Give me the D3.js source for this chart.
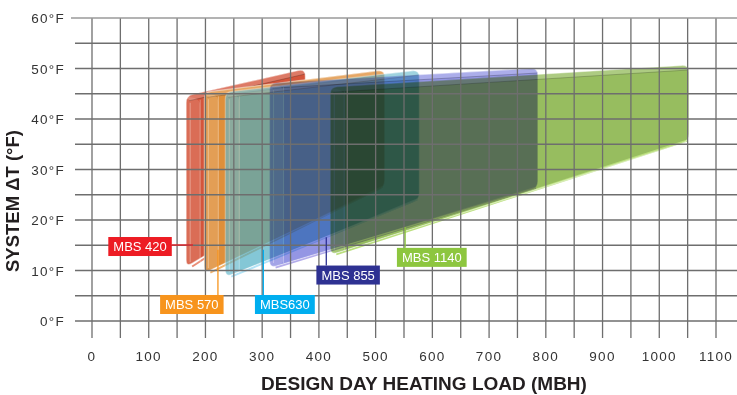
<!DOCTYPE html>
<html>
<head>
<meta charset="utf-8">
<script src="https://cdn.jsdelivr.net/npm/d3@7/dist/d3.min.js"></script>
<style>
  html, body { margin: 0; padding: 0; background: #fff; }
  svg { display: block; }
  text { font-family: "Liberation Sans", Arial, Helvetica, sans-serif; }
</style>
</head>
<body>
<svg id="chart" width="737" height="395"></svg>
<script>
// Boiler operating envelopes: system ΔT versus design-day heating load
const models        = ["MBS 420", "MBS 570", "MBS630", "MBS 855", "MBS 1140"];
const minLoad       = [166, 198, 235, 313, 420];     // MBH at the left edge
const maxLoad       = [376, 516, 577, 786, 1052];    // MBH at the right edge
const dtTopLeft     = [44.6, 45.3, 45.3, 47.1, 46.3]; // °F
const dtTopRight    = [49.9, 49.7, 49.7, 50.1, 50.7];
const dtBottomLeft  = [10.7, 9.5, 8.7, 10.5, 13.1];
const dtBottomRight = [25.0, 26.5, 24.0, 26.3, 35.6];

const xTicks = d3.range(0, 1101, 100);
const yTicks = d3.range(0, 61, 10);
const yTickLabels = yTicks.map(v => v + "°F");

// Callout placement (box centre and leader start, in data units)
const calloutBox    = [[84.7, 14.75], [176, 3.27], [340, 3.27], [451.5, 9.1], [599, 12.6]];
const calloutLeader = [[178, 15.05], [222, 14.1], [302, 14.1], [413, 16.6], [552, 18.6]];

const panelStyle = [
  { fill: "#d4553b", rim: "#e98a72", opacity: 1,    blend: "normal",   tag: "#ed1c24" },
  { fill: "#df8f3a", rim: "#f0b36e", opacity: 1,    blend: "normal",   tag: "#f7941d" },
  { fill: "#4badc4", rim: "#8fd6f2", opacity: 0.68, blend: "normal",   tag: "#00aeef" },
  { fill: "#9496e4", rim: "#b3acea", opacity: 1,    blend: "multiply", tag: "#2e3192" },
  { fill: "#8eb851", rim: "#b4dc72", opacity: 0.92, blend: "multiply", tag: "#8dc63f" }
];

const svg = d3.select("#chart");
svg.append("rect").attr("width", 737).attr("height", 395).attr("fill", "#fff");

const x = d3.scaleLinear().domain([0, 1100]).range([92, 716]);
const y = d3.scaleLinear().domain([0, 60]).range([321, 18]);

// polygon with softened corners
function roundedPath(pts, r) {
  const n = pts.length;
  let d = "";
  for (let i = 0; i < n; i++) {
    const p0 = pts[(i - 1 + n) % n], p1 = pts[i], p2 = pts[(i + 1) % n];
    const l1 = Math.hypot(p0[0] - p1[0], p0[1] - p1[1]);
    const l2 = Math.hypot(p2[0] - p1[0], p2[1] - p1[1]);
    const rr = Math.min(r, l1 / 2, l2 / 2);
    const a = [p1[0] + (p0[0] - p1[0]) / l1 * rr, p1[1] + (p0[1] - p1[1]) / l1 * rr];
    const b = [p1[0] + (p2[0] - p1[0]) / l2 * rr, p1[1] + (p2[1] - p1[1]) / l2 * rr];
    d += (i === 0 ? "M" : "L") + a[0] + "," + a[1] + "Q" + p1[0] + "," + p1[1] + " " + b[0] + "," + b[1];
  }
  return d + "Z";
}

const panels = svg.append("g").attr("class", "panels");

models.forEach((m, i) => {
  const st = panelStyle[i];
  const pts = [
    [x(minLoad[i]), y(dtBottomLeft[i])],
    [x(minLoad[i]), y(dtTopLeft[i])],
    [x(maxLoad[i]), y(dtTopRight[i])],
    [x(maxLoad[i]), y(dtBottomRight[i])]
  ];
  const g = panels.append("g").style("mix-blend-mode", st.blend).attr("opacity", st.opacity);
  g.append("path").attr("d", roundedPath(pts, 7)).attr("fill", st.fill);

  // lit rim along the lower edge
  g.append("line")
    .attr("x1", pts[0][0] + 6).attr("y1", pts[0][1] - 0.5)
    .attr("x2", pts[3][0] - 2).attr("y2", pts[3][1] - 0.5)
    .attr("stroke", st.rim).attr("stroke-width", 2);

  // top bevel
  const bev = 5;
  const bevel = [pts[1], pts[2], [pts[2][0], pts[2][1] + bev], [pts[1][0] + 3, pts[1][1] + bev]];
  g.append("path").attr("d", roundedPath(bevel, 2)).attr("fill", "#fff").attr("fill-opacity", 0.22);
  g.append("line")
    .attr("x1", pts[1][0] + 3).attr("y1", pts[1][1] + bev)
    .attr("x2", pts[2][0]).attr("y2", pts[2][1] + bev)
    .attr("stroke", "#000").attr("stroke-opacity", 0.22).attr("stroke-width", 1);

  // front face strip on the left edge
  const fw = 14;
  const face = [
    [pts[0][0], pts[0][1]],
    [pts[1][0], pts[1][1]],
    [pts[1][0] + fw, pts[1][1] + 4],
    [pts[0][0] + fw, pts[0][1] - 4]
  ];
  g.append("path").attr("d", roundedPath(face, 6)).attr("fill", "#fff").attr("fill-opacity", 0.14);
  [4, fw].forEach(off => {
    g.append("line")
      .attr("x1", pts[1][0] + off).attr("y1", pts[1][1] + (off === fw ? 4 : 7))
      .attr("x2", pts[0][0] + off).attr("y2", pts[0][1] - 5)
      .attr("stroke", "#fff").attr("stroke-opacity", 0.35).attr("stroke-width", 1);
  });

  // glassy outline
  g.append("path").attr("d", roundedPath(pts, 7))
    .attr("fill", "none").attr("stroke", "#fff").attr("stroke-opacity", 0.45).attr("stroke-width", 1.2);
});

// grid
const grid = svg.append("g").attr("stroke", "#6e6e6e").attr("stroke-width", 1.3);
d3.range(0, 1101, 50).forEach(v => {
  grid.append("line").attr("x1", x(v)).attr("x2", x(v)).attr("y1", y(60)).attr("y2", 338);
});
d3.range(0, 56, 5).forEach(v => {
  grid.append("line").attr("x1", 75).attr("x2", 737).attr("y1", y(v)).attr("y2", y(v));
});
grid.append("line").attr("x1", 71).attr("x2", 737).attr("y1", y(60)).attr("y2", y(60))
  .attr("stroke", "#9a9a9a");

// tick labels
svg.append("g").selectAll("text").data(xTicks).join("text")
  .attr("x", d => x(d)).attr("y", 361)
  .attr("text-anchor", "middle")
  .attr("font-size", 13.5).attr("letter-spacing", 1.3).attr("fill", "#333")
  .text(d => d);

svg.append("g").selectAll("text").data(yTicks).join("text")
  .attr("x", 65).attr("y", d => y(d) + 5)
  .attr("text-anchor", "end")
  .attr("font-size", 13.5).attr("letter-spacing", 1.3).attr("fill", "#333")
  .text((d, i) => yTickLabels[i]);

// axis titles
svg.append("text")
  .attr("x", 424).attr("y", 390)
  .attr("text-anchor", "middle")
  .attr("font-size", 19).attr("font-weight", "bold").attr("fill", "#231f20")
  .text("DESIGN DAY HEATING LOAD (MBH)");

svg.append("text")
  .attr("transform", "translate(19,201) rotate(-90)")
  .attr("text-anchor", "middle")
  .attr("font-size", 18.5).attr("font-weight", "bold").attr("fill", "#231f20")
  .text("SYSTEM ΔT (°F)");

// callouts
const callouts = svg.append("g");
models.forEach((m, i) => {
  const st = panelStyle[i];
  const cx = x(calloutBox[i][0]), cy = y(calloutBox[i][1]);
  const t = callouts.append("text")
    .attr("x", cx).attr("y", cy).attr("dy", "0.36em")
    .attr("text-anchor", "middle").attr("font-size", 13).attr("fill", "#fff")
    .text(m);
  const w = t.node().getComputedTextLength() + 10, h = 19;
  const lx = x(calloutLeader[i][0]), ly = y(calloutLeader[i][1]);
  if (i === 0) {
    callouts.insert("line", "text").attr("x1", cx + w / 2).attr("x2", lx).attr("y1", ly).attr("y2", ly)
      .attr("stroke", st.tag).attr("stroke-width", 1.3);
  } else {
    callouts.insert("line", "text").attr("x1", lx).attr("x2", lx).attr("y1", ly).attr("y2", cy - h / 2)
      .attr("stroke", st.tag).attr("stroke-width", 1.3);
  }
  callouts.insert("rect", "text")
    .attr("x", cx - w / 2).attr("y", cy - h / 2).attr("width", w).attr("height", h)
    .attr("fill", st.tag);
  t.raise();
});
</script>
</body>
</html>
